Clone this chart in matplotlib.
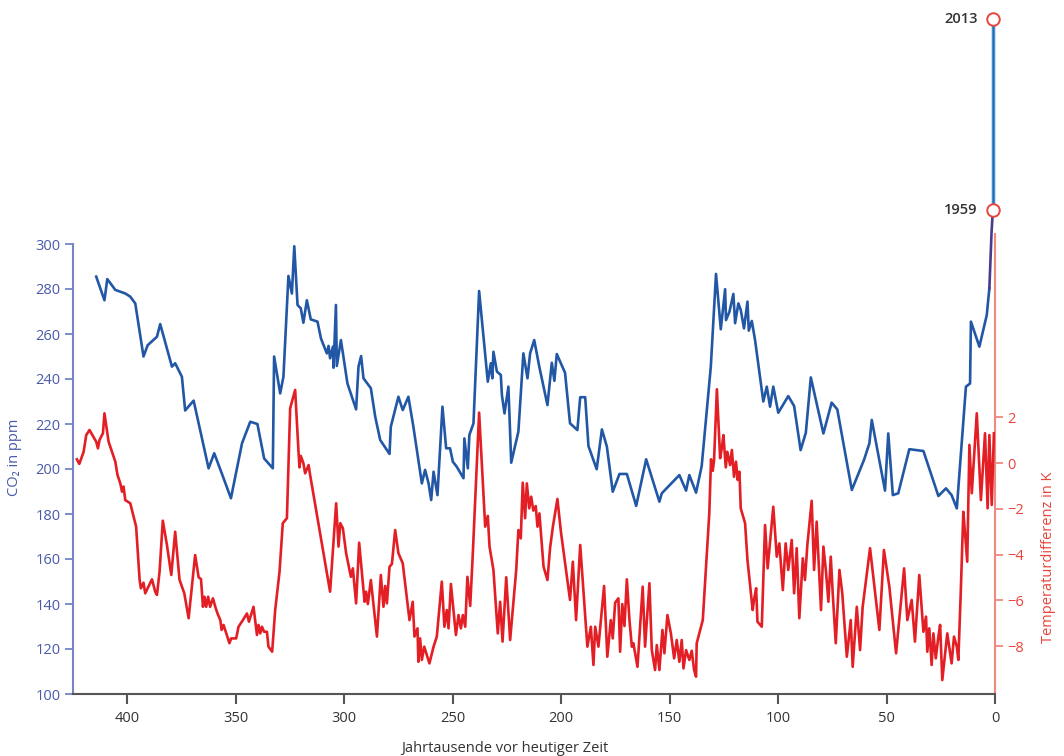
import matplotlib
matplotlib.use("Agg")
import matplotlib.pyplot as plt

plt.rcParams['font.family'] = ['Open Sans', 'DejaVu Sans']

# Vostok-Eisbohrkern: CO2 (ppm) und Temperaturdifferenz (K), Alter in Jahrtausenden
co2_kyr = [414.3, 410.5, 409.2, 405.5, 400.9, 398.6, 396.3, 392.5, 390.6, 386.3,
           384.8, 379.4, 377.9, 374.8, 373.3, 369.4, 362.5, 359.9, 356.4, 352.2,
           347.1, 343.3, 340.0, 336.9, 332.9, 332.3, 329.5, 328.0, 325.7, 324.1,
           323.0, 321.5, 320.0, 318.8, 317.2, 315.4, 312.3, 310.7, 308.0, 307.2,
           306.5, 305.2, 304.9, 303.8, 303.4, 301.5, 298.5, 294.5, 293.4, 292.2,
           291.1, 287.7, 285.7, 283.4, 279.1, 278.5, 275.0, 273.0, 270.4, 268.1,
           264.2, 262.7, 261.1, 259.9, 258.8, 257.0, 254.7, 253.0, 251.2, 249.9,
           248.1, 245.0, 244.6, 243.0, 242.3, 240.4, 237.8, 233.8, 232.4, 231.7,
           231.2, 229.6, 227.8, 227.3, 226.1, 224.3, 223.0, 219.7, 217.4, 215.5,
           214.3, 212.4, 210.0, 206.3, 204.3, 203.1, 202.0, 198.2, 195.9, 192.5,
           191.2, 188.9, 187.4, 183.6, 181.2, 178.9, 176.2, 173.1, 169.7, 165.4,
           160.8, 154.7, 153.6, 145.5, 142.4, 140.9, 137.8, 135.2, 131.0, 128.6,
           126.4, 124.4, 124.0, 122.4, 120.6, 119.8, 118.3, 117.2, 115.7, 114.1,
           113.5, 112.1, 110.6, 106.8, 105.2, 103.7, 102.2, 99.9, 95.3, 92.6,
           89.6, 87.2, 84.9, 79.1, 75.3, 72.7, 66.0, 60.4, 57.9, 56.8,
           50.7, 49.2, 47.1, 44.6, 39.5, 33.0, 26.1, 22.6, 20.0, 17.6,
           13.4, 11.5, 11.1, 7.2, 3.8, 2.6]
co2_ppm = [285.5, 275.0, 284.4, 279.6, 278.0, 276.6, 273.6, 250.0, 255.0, 258.8,
           264.4, 245.5, 247.0, 241.0, 226.0, 230.4, 200.3, 207.0, 198.0, 187.0,
           211.4, 221.0, 220.0, 204.7, 200.3, 250.0, 233.6, 241.0, 285.8, 278.0,
           299.0, 272.9, 271.4, 265.0, 275.0, 266.5, 265.5, 258.0, 251.4, 254.7,
           249.2, 254.4, 245.0, 272.9, 245.8, 257.3, 238.0, 226.5, 245.5, 250.2,
           240.3, 235.9, 223.3, 212.9, 206.7, 218.8, 232.1, 226.2, 232.1, 218.8,
           193.6, 199.6, 193.6, 186.2, 198.8, 188.4, 227.7, 209.2, 209.2, 203.2,
           201.0, 195.9, 213.6, 200.3, 215.1, 220.3, 279.1, 238.8, 247.0, 240.3,
           252.1, 243.3, 241.8, 232.9, 224.7, 236.6, 202.8, 216.6, 251.4, 240.3,
           251.4, 257.3, 245.2, 228.4, 247.2, 239.2, 251.1, 242.8, 220.3, 217.3,
           231.9, 231.9, 210.2, 199.9, 217.6, 209.9, 189.9, 197.8, 197.8, 183.6,
           204.3, 185.5, 189.2, 197.3, 190.4, 197.3, 189.5, 201.3, 245.5, 286.7,
           262.1, 279.9, 266.2, 269.9, 277.8, 264.8, 273.6, 270.7, 262.5, 274.4,
           261.5, 265.8, 257.3, 230.0, 236.6, 227.7, 236.6, 225.0, 232.4, 228.0,
           208.4, 216.1, 240.7, 215.8, 229.5, 226.5, 190.7, 204.0, 211.4, 221.8,
           190.4, 215.8, 188.4, 189.2, 208.8, 208.0, 188.0, 191.4, 188.4, 182.5,
           236.6, 238.0, 265.5, 254.4, 268.4, 280.3]

# Übergang zur Messreihe (Mauna Loa)
recent_kyr = [2.6, 2.2, 1.6, 1.0]
recent_ppm = [280.3, 290.0, 305.0, 315.0]
years = ['1959', '2013']
years_kyr = [1.0, 1.0]
years_ppm = [315.0, 400.0]

temp_kyr = [423.2, 422.1, 420.1, 418.9, 417.4, 414.3, 413.5, 412.8, 411.2, 410.5,
            408.6, 406.3, 405.5, 404.5, 403.2, 402.4, 401.7, 400.9, 398.6, 395.9,
            394.3, 393.7, 392.5, 391.7, 388.6, 387.1, 386.3, 385.1, 383.6, 381.7,
            379.7, 377.9, 375.9, 373.7, 371.7, 368.7, 367.1, 366.0, 365.1, 364.4,
            363.6, 362.7, 361.8, 360.5, 359.4, 358.4, 357.1, 356.5, 355.6, 352.9,
            352.1, 349.8, 348.7, 346.7, 344.8, 343.9, 341.8, 340.2, 339.5, 338.7,
            337.9, 336.9, 335.6, 334.9, 333.2, 331.8, 329.8, 328.3, 326.4, 324.9,
            322.6, 321.1, 320.6, 320.0, 318.8, 318.0, 316.4, 315.7, 306.5, 303.7,
            302.6, 301.8, 300.6, 299.1, 296.9, 296.0, 294.5, 293.1, 290.6, 289.9,
            289.1, 287.7, 284.9, 283.1, 281.9, 281.1, 280.3, 279.1, 278.0, 276.5,
            275.0, 273.0, 269.9, 268.4, 267.6, 266.2, 265.8, 265.0, 264.2, 263.1,
            260.7, 258.8, 257.3, 255.0, 253.8, 252.7, 251.9, 250.8, 248.5, 247.3,
            246.2, 245.3, 244.2, 243.2, 241.9, 240.7, 237.8, 235.0, 233.8, 233.0,
            231.2, 229.2, 228.1, 227.0, 225.3, 223.5, 220.7, 219.7, 218.6, 217.7,
            216.6, 215.8, 214.7, 213.8, 212.8, 211.7, 210.9, 210.0, 208.1, 206.3,
            205.1, 203.8, 201.7, 200.1, 195.9, 194.6, 193.1, 191.2, 187.9, 186.3,
            185.1, 184.3, 182.8, 180.2, 178.7, 177.1, 176.2, 175.1, 173.6, 172.8,
            171.8, 170.8, 169.7, 168.5, 167.4, 166.7, 165.9, 164.8, 162.4, 161.3,
            159.3, 158.2, 156.7, 155.9, 154.7, 153.3, 152.4, 151.0, 149.4, 147.9,
            146.7, 145.5, 144.4, 143.6, 142.4, 140.9, 139.8, 138.7, 137.8, 137.5,
            134.7, 131.7, 130.9, 130.1, 129.5, 128.2, 126.7, 125.9, 125.2, 124.1,
            123.4, 122.1, 121.3, 120.3, 119.4, 118.6, 117.8, 117.2, 115.2, 114.1,
            111.7, 111.1, 110.1, 109.5, 107.5, 106.0, 104.8, 102.2, 100.6, 99.4,
            97.8, 96.5, 95.3, 93.7, 92.6, 91.4, 90.2, 88.6, 87.6, 86.5,
            84.5, 83.4, 82.2, 80.2, 79.1, 77.9, 76.8, 75.7, 74.8, 73.4,
            71.7, 70.4, 68.3, 66.5, 65.6, 63.7, 62.2, 61.0, 57.6, 53.3,
            51.2, 48.7, 45.6, 41.9, 40.4, 38.4, 36.9, 34.9, 33.0, 31.8,
            31.2, 30.3, 29.2, 28.4, 27.3, 26.1, 25.3, 24.3, 23.0, 22.0,
            20.0, 18.9, 17.6, 16.9, 15.8, 14.6, 13.8, 12.8, 11.8, 10.7,
            8.4, 6.5, 4.6, 3.4, 2.6, 1.5, 0.5]
temp_k = [0.16, -0.04, 0.49, 1.22, 1.44, 0.93, 0.64, 1.0, 1.3, 2.17,
          0.93, 0.28, 0.06, -0.52, -0.89, -1.25, -1.03, -1.62, -1.76, -2.78,
          -5.1, -5.47, -5.23, -5.69, -5.08, -5.62, -5.76, -4.75, -2.52, -3.58,
          -4.89, -3.0, -5.1, -5.69, -6.78, -4.02, -4.99, -5.07, -6.28, -5.84,
          -6.28, -5.84, -6.28, -5.91, -6.28, -6.57, -6.86, -7.29, -7.07, -7.87,
          -7.66, -7.66, -7.15, -6.86, -6.57, -6.93, -6.28, -7.51, -7.07, -7.44,
          -7.15, -7.37, -7.37, -8.02, -8.24, -6.42, -4.75, -2.63, -2.41, 2.39,
          3.19, 0.57, -0.19, 0.31, -0.01, -0.45, -0.09, -0.52, -5.62, -1.76,
          -3.65, -2.63, -2.85, -3.94, -4.97, -4.6, -6.13, -3.48, -6.06, -5.62,
          -6.16, -5.11, -7.58, -4.89, -6.28, -5.37, -6.13, -4.53, -4.41, -2.93,
          -3.94, -4.38, -6.86, -6.06, -7.58, -7.22, -8.68, -7.66, -8.6, -8.02,
          -8.75, -8.02, -7.58, -5.18, -7.15, -6.42, -7.22, -5.28, -7.51, -6.64,
          -7.22, -6.64, -7.15, -4.97, -6.24, -3.94, 2.2, -2.78, -2.31, -3.65,
          -4.67, -7.44, -6.06, -7.8, -4.99, -7.73, -4.67, -2.93, -3.29, -0.86,
          -2.41, -0.89, -1.98, -1.47, -2.08, -1.88, -2.78, -2.2, -4.53, -5.11,
          -3.72, -2.78, -1.57, -3.0, -5.98, -4.31, -6.86, -3.58, -8.02, -7.15,
          -8.82, -7.15, -8.02, -5.37, -8.46, -6.86, -7.66, -6.1, -5.91, -8.24,
          -6.16, -7.12, -5.08, -6.86, -8.02, -7.87, -8.31, -8.9, -5.4, -8.02,
          -5.25, -8.17, -9.04, -7.95, -9.04, -7.29, -8.31, -6.64, -7.44, -8.53,
          -7.73, -8.68, -7.73, -8.97, -8.17, -8.6, -8.2, -9.04, -9.33, -7.87,
          -6.86, -2.2, 0.16, -0.34, 0.13, 3.22, 0.21, 0.68, 1.22, -0.19,
          0.49, -0.09, 0.57, -0.6, 0.06, -0.74, -0.38, -1.98, -2.63, -4.24,
          -6.42, -5.98, -5.47, -6.93, -7.15, -2.71, -4.6, -1.91, -4.09, -3.51,
          -5.55, -3.51, -4.67, -3.36, -5.69, -3.72, -6.78, -4.16, -5.11, -3.58,
          -1.65, -4.67, -2.56, -6.42, -3.65, -4.75, -6.06, -4.09, -5.69, -7.87,
          -4.67, -5.69, -8.46, -6.86, -8.9, -6.28, -8.17, -6.28, -3.72, -7.29,
          -3.8, -5.4, -8.31, -4.6, -6.86, -5.98, -7.8, -4.89, -7.37, -6.71,
          -8.24, -7.22, -8.82, -7.44, -8.53, -7.58, -7.07, -9.48, -8.31, -7.44,
          -8.75, -7.58, -8.02, -8.6, -5.69, -2.13, -3.07, -4.31, 0.79, -1.32,
          2.17, -1.62, 1.3, -1.98, 1.22, -1.83, 1.3]

co2_ticks = [100, 120, 140, 160, 180, 200, 220, 240, 260, 280, 300]
temp_ticks = [-8, -6, -4, -2, 0, 2]
age_ticks = [400, 350, 300, 250, 200, 150, 100, 50, 0]

BLUE = '#2257a6'
RED = '#e31e24'
AX_BLUE = '#4a5aa8'
AX_RED = '#e8453c'

fig = plt.figure(figsize=(10.64, 7.56), dpi=100)
ax = fig.add_axes([73 / 1064, 1 - 694 / 756, 922 / 1064, (694 - 7.75) / 756])
ax2 = ax.twinx()

ax.set_xlim(425, 0)
ax.set_ylim(100, 405)
ax2.set_ylim((463 - 694) / 22.9, (463 - 7.75) / 22.9)

ax2.plot(temp_kyr, temp_k, color=RED, lw=1.9, zorder=3)
ax.plot(co2_kyr, co2_ppm, color=BLUE, lw=1.9, zorder=4)
ax.plot(recent_kyr, recent_ppm, color='#4a3a8e', lw=1.9, zorder=4)
ax.plot(years_kyr, years_ppm, color='#c4ddf1', lw=3.4, zorder=4, clip_on=False)
ax.plot(years_kyr, years_ppm, color='#1f6fbf', lw=1.8, zorder=5, clip_on=False)
ax.plot(years_kyr, years_ppm, 'o', ms=9, mfc='white', mec=AX_RED, mew=1.4,
        zorder=6, clip_on=False)
for lab, xk, yp in zip(years, years_kyr, years_ppm):
    ax.annotate(lab, (xk, yp), xytext=(-11, 0), textcoords='offset points',
                ha='right', va='center', fontsize=10.5, fontweight='semibold',
                color='#333333')
ax.set_zorder(ax2.get_zorder() + 1)
ax.patch.set_visible(False)

# Achsen
for s in ['top', 'right']:
    ax.spines[s].set_visible(False)
for s in ['top', 'left', 'bottom']:
    ax2.spines[s].set_visible(False)
ax.spines['left'].set_bounds(100, 300)
ax.spines['left'].set_color('#7585c6')
ax.spines['left'].set_linewidth(1.5)
ax.spines['bottom'].set_color('#555555')
ax.spines['bottom'].set_linewidth(1.5)
ax2.spines['right'].set_bounds(-10, 10)
ax2.spines['right'].set_color('#f0897f')
ax2.spines['right'].set_linewidth(1.5)

ax.set_yticks(co2_ticks)
ax.tick_params(axis='y', colors='#7585c6', labelcolor=AX_BLUE, labelsize=10.5,
               length=6, width=1.3, pad=3)
ax.set_xticks(age_ticks)
ax.tick_params(axis='x', colors='#555555', labelcolor='#333333', labelsize=10.5,
               length=7, width=1.5, pad=5)
ax2.set_yticks(temp_ticks)
ax2.tick_params(axis='y', colors='#f0897f', labelcolor=AX_RED, labelsize=10.5,
                length=6, width=1.3, pad=3)

fig.text(15 / 1064, 1 - 457 / 756, 'CO₂ in ppm', rotation=90, ha='center',
         va='center', color=AX_BLUE, fontsize=10.5)
fig.text(1048 / 1064, 1 - 557 / 756, 'Temperaturdifferenz in K', rotation=90,
         ha='center', va='center', color=AX_RED, fontsize=10.5)
fig.text(505 / 1064, 1 - 748 / 756, 'Jahrtausende vor heutiger Zeit',
         ha='center', va='center', color='#333333', fontsize=10.5)

fig.savefig('out.png', dpi=100)
